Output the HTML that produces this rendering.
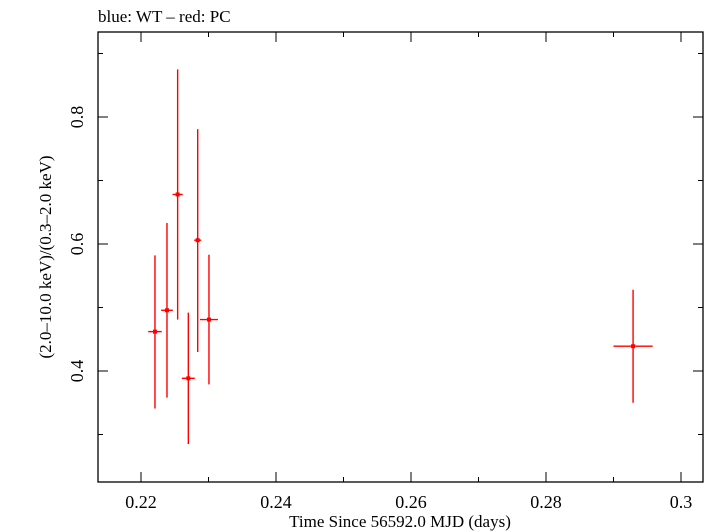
<!DOCTYPE html>
<html><head><meta charset="utf-8"><style>
body{margin:0;background:#fff}
svg{display:block;font-family:"Liberation Serif",serif}
</style></head><body>
<svg id="chart" width="707" height="532">
<text x="98" y="22" font-size="17">blue: WT – red: PC</text>
<rect x="98" y="32" width="605" height="450" fill="none" stroke="#000" stroke-width="1.3"/>
<g id="ticks"></g>
<g id="marks"></g>
<text x="400" y="527" font-size="17" text-anchor="middle">Time Since 56592.0 MJD (days)</text>
<text transform="translate(51,257) rotate(-90)" font-size="17" text-anchor="middle">(2.0–10.0 keV)/(0.3–2.0 keV)</text>
</svg>
<script>
const times=[0.22207,0.22385,0.22543,0.22701,0.2284,0.23007,0.2929];
const timeErr=[0.0010,0.00086,0.00075,0.00096,0.00052,0.00133,0.0029];
const ratios=[0.462,0.4956,0.678,0.3885,0.606,0.481,0.439];
const ratioHi=[0.582,0.633,0.875,0.492,0.781,0.583,0.528];
const ratioLo=[0.341,0.358,0.481,0.285,0.430,0.379,0.350];
const xTickLabels=["0.22","0.24","0.26","0.28","0.3"];
const yTickLabels=["0.4","0.6","0.8"];
const NS="http://www.w3.org/2000/svg";
function X(v){return 141+(v-0.22)*6750;}
function Y(v){return 117-(v-0.8)*635;}
function mk(tag,attrs,parent){const e=document.createElementNS(NS,tag);for(const k in attrs)e.setAttribute(k,attrs[k]);parent.appendChild(e);return e;}
const tk=document.getElementById('ticks');
for(let i=0;i<=8;i++){
  const v=0.22+i*0.01;const x=X(v);const L=i%2==0?10:5;
  let t=mk('line',{x1:x,x2:x,y1:482,y2:482-L,stroke:'#000'},tk);
  
  
  t=mk('line',{x1:x,x2:x,y1:32,y2:32+L,stroke:'#000'},tk);
  
  
}
xTickLabels.forEach(s=>{
  const t=mk('text',{x:X(parseFloat(s)),y:508,'font-size':18,'text-anchor':'middle'},tk);
  t.textContent=s;
  
  
});
for(let i=3;i<=9;i++){
  const v=i/10;const y=Y(v);const L=i%2==0?10:5;
  let t=mk('line',{x1:98,x2:98+L,y1:y,y2:y,stroke:'#000'},tk);
  
  
  t=mk('line',{x1:703,x2:703-L,y1:y,y2:y,stroke:'#000'},tk);
  
  
}
yTickLabels.forEach(s=>{
  const y=Y(parseFloat(s));
  const t=mk('text',{transform:`translate(83,${y}) rotate(-90)`,'font-size':18,'text-anchor':'middle'},tk);
  t.textContent=s;
  
  
});
const mg=document.getElementById('marks');
times.forEach((t,i)=>{
  const g=mk('g',{stroke:'#f00','stroke-width':1.4},mg);
  
  
  mk('line',{x1:X(t),x2:X(t),y1:Y(ratioHi[i]),y2:Y(ratioLo[i])},g);
  mk('line',{x1:X(t-timeErr[i]),x2:X(t+timeErr[i]),y1:Y(ratios[i]),y2:Y(ratios[i])},g);
  mk('rect',{x:X(t)-2,y:Y(ratios[i])-2,width:4,height:4,fill:'#f00',stroke:'none'},g);
});
</script>
</body></html>
